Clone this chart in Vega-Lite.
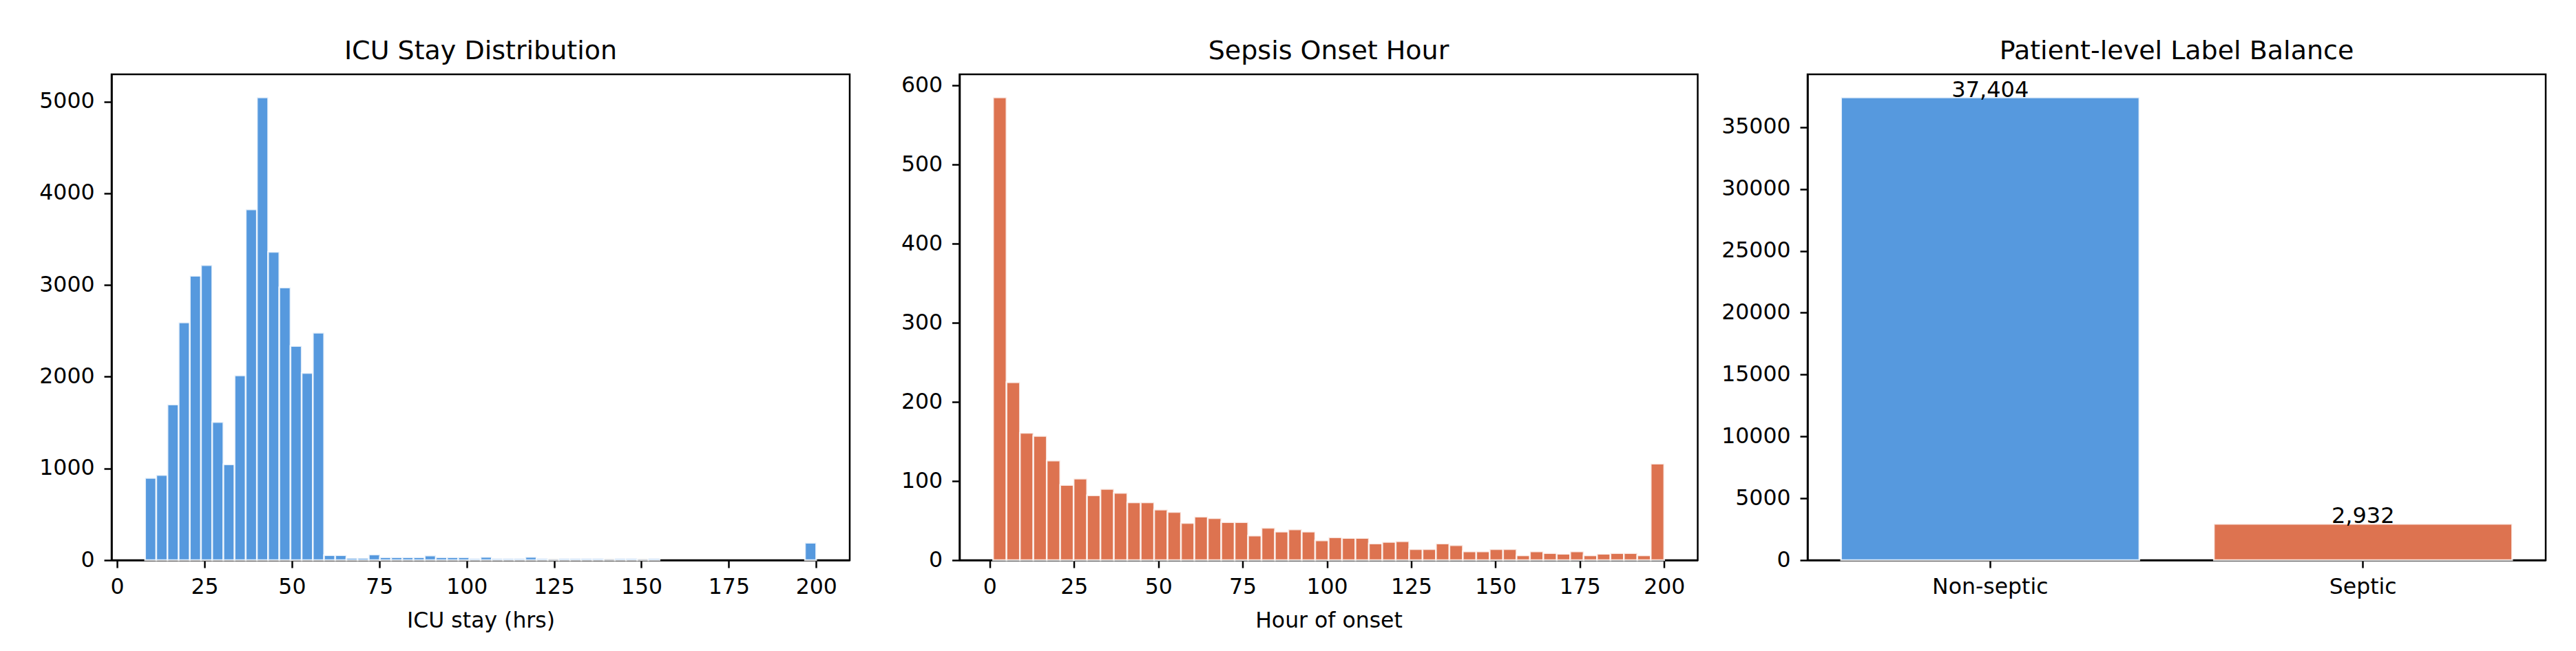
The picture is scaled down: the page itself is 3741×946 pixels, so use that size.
{
  "$schema": "https://vega.github.io/schema/vega-lite/v6.json",
  "background": "white",
  "autosize": {"type": "pad"},
  "padding": {"left": 55, "top": 54, "right": 10, "bottom": 10},
  "spacing": 159.5,
  "bounds": "flush",
  "config": {
    "font": "DejaVu Sans",
    "view": {"stroke": "black", "strokeWidth": 2.5},
    "axis": {
      "grid": false,
      "domain": true,
      "domainColor": "black",
      "domainWidth": 2.5,
      "zindex": 1,
      "tickColor": "black",
      "tickWidth": 2.5,
      "tickSize": 11,
      "labelColor": "black",
      "labelFont": "DejaVu Sans",
      "labelFontSize": 31.5,
      "labelPadding": 14,
      "titleFont": "DejaVu Sans",
      "titleFontSize": 31.5,
      "titleFontWeight": "normal",
      "titleColor": "black"
    },
    "axisX": {"labelPadding": 12, "tickSize": 11, "titlePadding": 18, "labelAngle": 0},
    "title": {
      "font": "DejaVu Sans",
      "fontSize": 38,
      "fontWeight": "normal",
      "color": "black",
      "frame": "group",
      "anchor": "middle",
      "baseline": "alphabetic",
      "offset": 14
    }
  },
  "datasets": {
    "icu_stay": [
      {"bin_start": 8.0, "bin_end": 11.2, "count": 896},
      {"bin_start": 11.2, "bin_end": 14.4, "count": 928},
      {"bin_start": 14.4, "bin_end": 17.6, "count": 1697},
      {"bin_start": 17.6, "bin_end": 20.8, "count": 2593},
      {"bin_start": 20.8, "bin_end": 24.0, "count": 3100},
      {"bin_start": 24.0, "bin_end": 27.2, "count": 3217},
      {"bin_start": 27.2, "bin_end": 30.4, "count": 1507},
      {"bin_start": 30.4, "bin_end": 33.6, "count": 1045},
      {"bin_start": 33.6, "bin_end": 36.8, "count": 2014},
      {"bin_start": 36.8, "bin_end": 40.0, "count": 3824},
      {"bin_start": 40.0, "bin_end": 43.2, "count": 5045},
      {"bin_start": 43.2, "bin_end": 46.4, "count": 3362},
      {"bin_start": 46.4, "bin_end": 49.6, "count": 2973},
      {"bin_start": 49.6, "bin_end": 52.8, "count": 2335},
      {"bin_start": 52.8, "bin_end": 56.0, "count": 2041},
      {"bin_start": 56.0, "bin_end": 59.2, "count": 2480},
      {"bin_start": 59.2, "bin_end": 62.4, "count": 54},
      {"bin_start": 62.4, "bin_end": 65.6, "count": 54},
      {"bin_start": 65.6, "bin_end": 68.8, "count": 24},
      {"bin_start": 68.8, "bin_end": 72.0, "count": 24},
      {"bin_start": 72.0, "bin_end": 75.2, "count": 62},
      {"bin_start": 75.2, "bin_end": 78.4, "count": 32},
      {"bin_start": 78.4, "bin_end": 81.6, "count": 32},
      {"bin_start": 81.6, "bin_end": 84.8, "count": 32},
      {"bin_start": 84.8, "bin_end": 88.0, "count": 32},
      {"bin_start": 88.0, "bin_end": 91.2, "count": 51},
      {"bin_start": 91.2, "bin_end": 94.4, "count": 32},
      {"bin_start": 94.4, "bin_end": 97.6, "count": 32},
      {"bin_start": 97.6, "bin_end": 100.8, "count": 32},
      {"bin_start": 100.8, "bin_end": 104.0, "count": 19},
      {"bin_start": 104.0, "bin_end": 107.2, "count": 35},
      {"bin_start": 107.2, "bin_end": 110.4, "count": 19},
      {"bin_start": 110.4, "bin_end": 113.6, "count": 19},
      {"bin_start": 113.6, "bin_end": 116.8, "count": 19},
      {"bin_start": 116.8, "bin_end": 120.0, "count": 35},
      {"bin_start": 120.0, "bin_end": 123.2, "count": 19},
      {"bin_start": 123.2, "bin_end": 126.4, "count": 4},
      {"bin_start": 126.4, "bin_end": 129.6, "count": 19},
      {"bin_start": 129.6, "bin_end": 132.8, "count": 19},
      {"bin_start": 132.8, "bin_end": 136.0, "count": 19},
      {"bin_start": 136.0, "bin_end": 139.2, "count": 19},
      {"bin_start": 139.2, "bin_end": 142.4, "count": 4},
      {"bin_start": 142.4, "bin_end": 145.6, "count": 19},
      {"bin_start": 145.6, "bin_end": 148.8, "count": 19},
      {"bin_start": 148.8, "bin_end": 152.0, "count": 4},
      {"bin_start": 152.0, "bin_end": 155.2, "count": 19},
      {"bin_start": 196.8, "bin_end": 200.0, "count": 190}
    ],
    "onset_hour": [
      {"bin_start": 1.0, "bin_end": 4.98, "count": 585},
      {"bin_start": 4.98, "bin_end": 8.96, "count": 225},
      {"bin_start": 8.96, "bin_end": 12.94, "count": 161},
      {"bin_start": 12.94, "bin_end": 16.92, "count": 157},
      {"bin_start": 16.92, "bin_end": 20.9, "count": 126},
      {"bin_start": 20.9, "bin_end": 24.88, "count": 95},
      {"bin_start": 24.88, "bin_end": 28.86, "count": 103},
      {"bin_start": 28.86, "bin_end": 32.84, "count": 82},
      {"bin_start": 32.84, "bin_end": 36.82, "count": 90},
      {"bin_start": 36.82, "bin_end": 40.8, "count": 85},
      {"bin_start": 40.8, "bin_end": 44.78, "count": 73},
      {"bin_start": 44.78, "bin_end": 48.76, "count": 73},
      {"bin_start": 48.76, "bin_end": 52.74, "count": 64},
      {"bin_start": 52.74, "bin_end": 56.72, "count": 61},
      {"bin_start": 56.72, "bin_end": 60.7, "count": 47},
      {"bin_start": 60.7, "bin_end": 64.68, "count": 55},
      {"bin_start": 64.68, "bin_end": 68.66, "count": 53},
      {"bin_start": 68.66, "bin_end": 72.64, "count": 48},
      {"bin_start": 72.64, "bin_end": 76.62, "count": 48},
      {"bin_start": 76.62, "bin_end": 80.6, "count": 31},
      {"bin_start": 80.6, "bin_end": 84.58, "count": 41},
      {"bin_start": 84.58, "bin_end": 88.56, "count": 36},
      {"bin_start": 88.56, "bin_end": 92.54, "count": 39},
      {"bin_start": 92.54, "bin_end": 96.52, "count": 36},
      {"bin_start": 96.52, "bin_end": 100.5, "count": 25},
      {"bin_start": 100.5, "bin_end": 104.48, "count": 29},
      {"bin_start": 104.48, "bin_end": 108.46, "count": 28},
      {"bin_start": 108.46, "bin_end": 112.44, "count": 28},
      {"bin_start": 112.44, "bin_end": 116.42, "count": 21},
      {"bin_start": 116.42, "bin_end": 120.4, "count": 23},
      {"bin_start": 120.4, "bin_end": 124.38, "count": 24},
      {"bin_start": 124.38, "bin_end": 128.36, "count": 14},
      {"bin_start": 128.36, "bin_end": 132.34, "count": 14},
      {"bin_start": 132.34, "bin_end": 136.32, "count": 21},
      {"bin_start": 136.32, "bin_end": 140.3, "count": 19},
      {"bin_start": 140.3, "bin_end": 144.28, "count": 11},
      {"bin_start": 144.28, "bin_end": 148.26, "count": 11},
      {"bin_start": 148.26, "bin_end": 152.24, "count": 14},
      {"bin_start": 152.24, "bin_end": 156.22, "count": 14},
      {"bin_start": 156.22, "bin_end": 160.2, "count": 6},
      {"bin_start": 160.2, "bin_end": 164.18, "count": 11},
      {"bin_start": 164.18, "bin_end": 168.16, "count": 9},
      {"bin_start": 168.16, "bin_end": 172.14, "count": 8},
      {"bin_start": 172.14, "bin_end": 176.12, "count": 11},
      {"bin_start": 176.12, "bin_end": 180.1, "count": 6},
      {"bin_start": 180.1, "bin_end": 184.08, "count": 8},
      {"bin_start": 184.08, "bin_end": 188.06, "count": 9},
      {"bin_start": 188.06, "bin_end": 192.04, "count": 9},
      {"bin_start": 192.04, "bin_end": 196.02, "count": 6},
      {"bin_start": 196.02, "bin_end": 200.0, "count": 122}
    ],
    "label_balance": [
      {"label": "Non-septic", "count": 37404},
      {"label": "Septic", "count": 2932}
    ]
  },
  "hconcat": [
    {
      "title": "ICU Stay Distribution",
      "width": 1072,
      "height": 706,
      "data": {"name": "icu_stay"},
      "mark": {"type": "rect", "fill": "#5699DE", "stroke": "white", "strokeWidth": 2.5, "strokeOpacity": 0.8},
      "encoding": {
        "x": {
          "field": "bin_start",
          "type": "quantitative",
          "scale": {"domain": [-1.6, 209.6], "nice": false, "zero": false},
          "axis": {"values": [0, 25, 50, 75, 100, 125, 150, 175, 200], "title": "ICU stay (hrs)", "format": "d"}
        },
        "x2": {"field": "bin_end"},
        "y": {
          "field": "count",
          "type": "quantitative",
          "scale": {"domain": [0, 5297], "nice": false},
          "axis": {"values": [0, 1000, 2000, 3000, 4000, 5000], "title": null, "format": "d"}
        },
        "y2": {"datum": 0}
      }
    },
    {
      "title": "Sepsis Onset Hour",
      "width": 1072,
      "height": 706,
      "data": {"name": "onset_hour"},
      "mark": {"type": "rect", "fill": "#DD7350", "stroke": "white", "strokeWidth": 2.5, "strokeOpacity": 0.8},
      "encoding": {
        "x": {
          "field": "bin_start",
          "type": "quantitative",
          "scale": {"domain": [-8.95, 209.95], "nice": false, "zero": false},
          "axis": {"values": [0, 25, 50, 75, 100, 125, 150, 175, 200], "title": "Hour of onset", "format": "d"}
        },
        "x2": {"field": "bin_end"},
        "y": {
          "field": "count",
          "type": "quantitative",
          "scale": {"domain": [0, 614.25], "nice": false},
          "axis": {"values": [0, 100, 200, 300, 400, 500, 600], "title": null, "format": "d"}
        },
        "y2": {"datum": 0}
      }
    },
    {
      "title": "Patient-level Label Balance",
      "width": 1072,
      "height": 706,
      "data": {"name": "label_balance"},
      "encoding": {
        "x": {
          "field": "label",
          "type": "nominal",
          "sort": ["Non-septic", "Septic"],
          "scale": {"paddingInner": 0.2, "paddingOuter": 0.09},
          "axis": {"title": null}
        },
        "y": {
          "field": "count",
          "type": "quantitative",
          "scale": {"domain": [0, 39274], "nice": false},
          "axis": {"values": [0, 5000, 10000, 15000, 20000, 25000, 30000, 35000], "title": null, "format": "d"}
        }
      },
      "layer": [
        {
          "mark": {"type": "bar", "stroke": "white", "strokeWidth": 2.5, "strokeOpacity": 0.8},
          "encoding": {
            "fill": {
              "field": "label",
              "type": "nominal",
              "scale": {"domain": ["Non-septic", "Septic"], "range": ["#5699DE", "#DD7350"]},
              "legend": null
            }
          }
        },
        {
          "mark": {"type": "text", "baseline": "alphabetic", "align": "center", "dy": -1, "fontSize": 32, "font": "DejaVu Sans", "color": "black"},
          "encoding": {
            "text": {"field": "count", "type": "quantitative", "format": ","}
          }
        }
      ]
    }
  ]
}
